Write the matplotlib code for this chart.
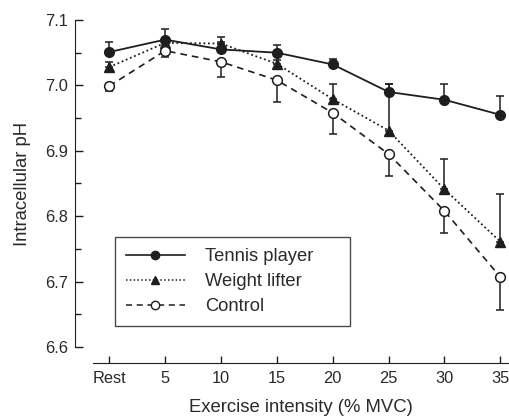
import matplotlib.pyplot as plt
from matplotlib.lines import Line2D
import numpy as np

plt.rcParams['font.family'] = ['Liberation Sans', 'DejaVu Sans']

labels = ['Rest', '5', '10', '15', '20', '25', '30', '35']
tennis = [7.051, 7.070, 7.055, 7.050, 7.032, 6.990, 6.978, 6.955]
tennis_err = [0.016, 0.016, 0.012, 0.012, 0.008, 0.012, 0.024, 0.029]
lifter = [7.028, 7.065, 7.064, 7.033, 6.979, 6.931, 6.841, 6.761]
lifter_err = [0.008, 0.006, 0.010, 0.006, 0.023, 0.071, 0.046, 0.073]
control = [6.999, 7.053, 7.036, 7.008, 6.958, 6.895, 6.808, 6.707]
control_err = [0.008, 0.009, 0.023, 0.033, 0.033, 0.034, 0.033, 0.050]

ink = '#1e1e1e'
txt = '#2a2a2a'
dotted = (0, (1, 1.5))
dashed = (0, (4, 3))
x = np.arange(len(labels))
zeros = np.zeros(len(labels))

fig = plt.figure(figsize=(5.1, 4.2), dpi=100)
ax = fig.add_axes([0.1824, 0.1738, 0.814, 0.7786])

ax.errorbar(x, tennis, yerr=[zeros, tennis_err], fmt='o-', color=ink, ms=7,
            lw=1.3, elinewidth=1.1, capsize=3, capthick=1.1, zorder=3)
ax.errorbar(x, lifter, yerr=[zeros, lifter_err], fmt='^', ls=dotted, color=ink, ms=7,
            lw=1.3, elinewidth=1.1, capsize=3, capthick=1.1, zorder=3)
ax.errorbar(x, control, yerr=[control_err, zeros], fmt='o', ls=dashed, color=ink, ms=7,
            mfc='white', mew=1.1, lw=1.2, elinewidth=1.1, capsize=3, capthick=1.1, zorder=3)

ax.set_ylim(6.6, 7.1)
ax.set_xlim(-0.29, 7.14)
ax.set_yticks([6.6, 6.7, 6.8, 6.9, 7.0, 7.1])
ax.set_yticklabels(['6.6', '6.7', '6.8', '6.9', '7.0', '7.1'])
ax.set_yticks(np.arange(6.65, 7.1, 0.1), minor=True)
ax.set_xticks(x)
ax.set_xticklabels(labels)
ax.tick_params(axis='y', which='major', direction='in', length=6, width=1, labelsize=11.8,
               colors=ink, labelcolor=txt, pad=5)
ax.tick_params(axis='y', which='minor', direction='in', length=4, width=1, colors=ink)
ax.tick_params(axis='x', direction='in', length=5, width=1, labelsize=11.8, colors=ink,
               labelcolor=txt, pad=6)

for s in ['top', 'right']:
    ax.spines[s].set_visible(False)
ax.spines['left'].set_position(('outward', 13))
ax.spines['bottom'].set_position(('outward', 11.5))
ax.spines['left'].set_color(ink)
ax.spines['bottom'].set_color(ink)

ax.set_ylabel('Intracellular pH', fontsize=13.3, color=txt, labelpad=10)
ax.set_xlabel('Exercise intensity (% MVC)', fontsize=13.3, color=txt, labelpad=9)

handles = [
    Line2D([], [], color=ink, lw=1.2, marker='o', ms=6),
    Line2D([], [], color=ink, lw=1.1, ls=dotted, marker='^', ms=6),
    Line2D([], [], color=ink, lw=1.1, ls=dashed, marker='o', ms=6, mfc='white', mew=1.0),
]
leg_labels = ['Tennis player', 'Weight lifter', 'Control']
leg = ax.legend(handles, leg_labels, loc='upper left',
                bbox_to_anchor=(115 / 510, 95 / 420, 235 / 510, 88 / 420),
                bbox_transform=fig.transFigure, mode='expand', fontsize=13.2,
                frameon=True, fancybox=False, edgecolor=ink, handlelength=3.2,
                handletextpad=1.1, labelspacing=0.44, borderpad=0.6, borderaxespad=0)
leg.get_frame().set_linewidth(1.0)
for t in leg.get_texts():
    t.set_color(txt)

fig.savefig('out.png', dpi=100)
